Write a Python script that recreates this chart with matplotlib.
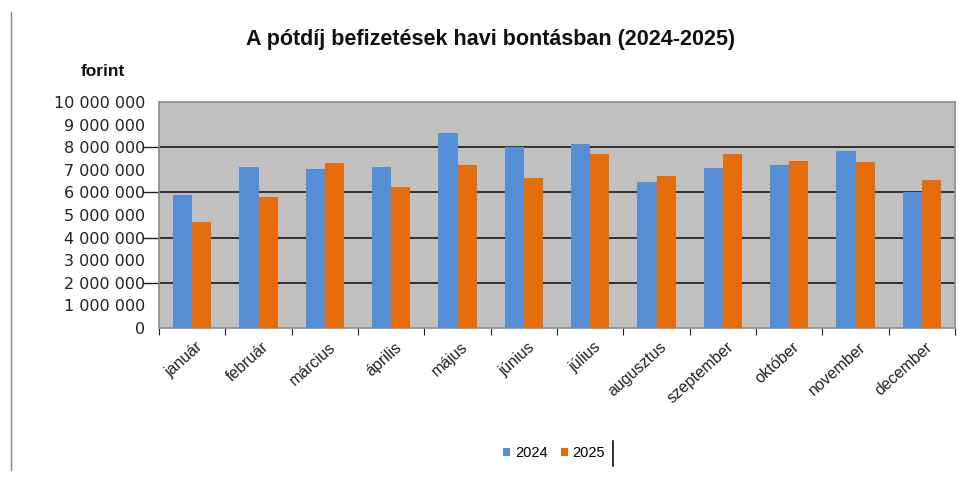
import numpy as np
import matplotlib
matplotlib.use("Agg")
import matplotlib.pyplot as plt
from matplotlib.ticker import FuncFormatter
from matplotlib.lines import Line2D

months = ['január', 'február', 'március', 'április', 'május', 'június',
          'július', 'augusztus', 'szeptember', 'október', 'november', 'december']
y2024 = [5900000, 7110000, 7050000, 7110000, 8650000, 8020000,
         8120000, 6460000, 7100000, 7220000, 7850000, 6020000]
y2025 = [4670000, 5800000, 7280000, 6250000, 7220000, 6640000,
         7720000, 6710000, 7720000, 7400000, 7330000, 6530000]

blue = '#558ed5'
orange = '#e46c0a'

plt.rcParams['font.family'] = ['Liberation Sans', 'DejaVu Sans']

fig = plt.figure(figsize=(9.63, 4.78), dpi=100)
ax = fig.add_axes([159/963, 150/478, 796/963, 226/478])

x = np.arange(len(months))
w = 0.29
ax.bar(x - w/2, y2024, w, color=blue, label='2024', zorder=3)
ax.bar(x + w/2, y2025, w, color=orange, label='2025', zorder=3)

ax.set_facecolor('#c0c0c0')
ax.set_xlim(-0.5, 11.5)
ax.set_ylim(0, 10000000)

# gridlines every 2 million, labels every million
for g in range(2000000, 10000000, 2000000):
    ax.axhline(g, color='#1a1a1a', lw=1.2, zorder=2)

ax.set_yticks(range(0, 10000001, 1000000))
ax.yaxis.set_major_formatter(FuncFormatter(lambda v, p: f'{int(v):,}'.replace(',', ' ')))
for t in ax.get_yticklabels():
    t.set_fontfamily('DejaVu Sans')
    t.set_fontsize(11.5)
    t.set_color('#222222')
ax.tick_params(axis='y', length=0, pad=10)
for g in range(2000000, 10000000, 2000000):
    ax.plot([-0.02, 0], [g, g], transform=ax.get_yaxis_transform(), color='#222222',
            lw=1, clip_on=False)

ax.set_xticks(np.arange(-0.5, 12, 1), minor=False)
ax.set_xticklabels([])
ax.tick_params(axis='x', length=5, color='#222222', direction='out')
for i, m in enumerate(months):
    ax.text(i + 0.05, -500000, m, rotation=42, ha='right', va='top',
            rotation_mode='anchor', fontsize=11.5, color='#222222')

for s in ax.spines.values():
    s.set_color('#8c8c8c')
    s.set_linewidth(1.2)

fig.text(0.509, 1 - 40/478, 'A pótdíj befizetések havi bontásban (2024-2025)',
         ha='center', va='center', fontsize=15.5, fontweight='bold', color='#111111')
fig.text(103/963, 1 - 72/478, 'forint', ha='center', va='center',
         fontsize=12.5, fontweight='bold', color='#111111')

leg = fig.legend(loc='center', bbox_to_anchor=(554/963, 1 - 453/478), ncol=2,
                 frameon=False, fontsize=10.5, handlelength=0.5, handleheight=0.5,
                 handletextpad=0.3, columnspacing=0.9)
fig.add_artist(Line2D([613/963, 613/963], [1 - 441/478, 1 - 466/478],
                      color='#111111', lw=1.2))
fig.add_artist(Line2D([11/963, 11/963], [1 - 12/478, 1 - 470/478],
                      color='#888888', lw=1))

fig.savefig('out.png', dpi=100)
